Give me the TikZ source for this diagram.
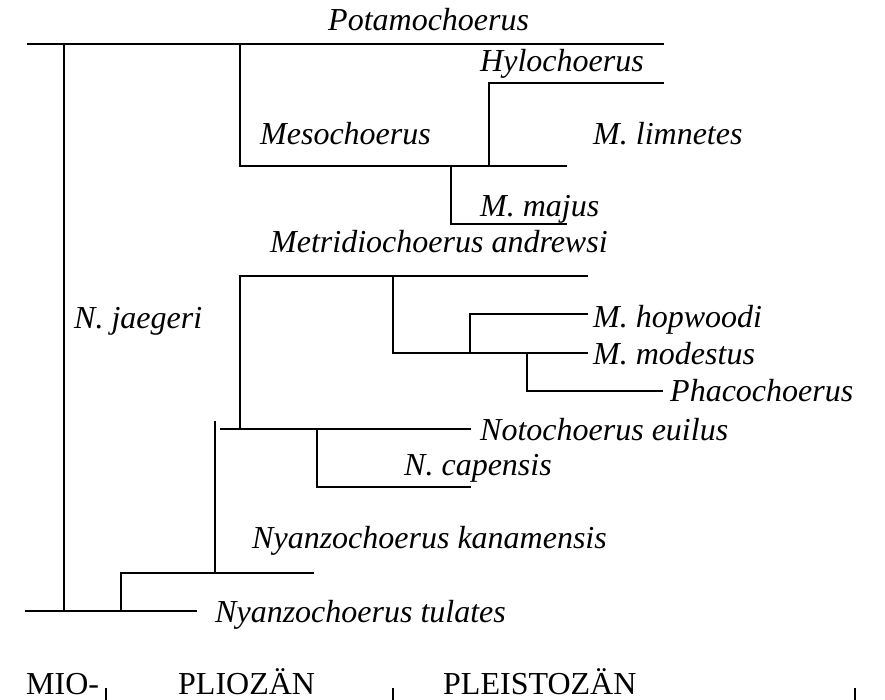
\documentclass[tikz,border=0pt]{standalone}
\usepackage{fontspec}
\setmainfont{Liberation Serif}
\usepackage{tikz}
\usetikzlibrary{positioning}

\begin{document}
\begin{tikzpicture}[
    x=1pt, y=-1pt,
    branch/.style={draw, line width=1.6pt, line cap=rect},
    taxon/.style={
        font=\fontsize{32}{38}\selectfont\itshape,
        inner sep=0pt,
        anchor=base west
    },
    epoch/.style={
        font=\fontsize{32}{38}\selectfont,
        inner sep=0pt,
        anchor=base west
    }
]
\useasboundingbox (0,0) rectangle (885,700);

% branch points
\coordinate (topL) at (28,44);
\coordinate (topR) at (663,44);
\coordinate (root) at (64,44);
\coordinate (botL) at (26,611);
\coordinate (botR) at (196,611);
\coordinate (rootB) at (64,611);
\coordinate (meso) at (240,44);
\coordinate (mesoR) at (566,166);
\coordinate (hylo) at (489,166);
\coordinate (hyloR) at (663,83);
\coordinate (majus) at (451,166);
\coordinate (majusR) at (566,224);
\coordinate (nyan) at (121,611);
\coordinate (kanR) at (313,573);
\coordinate (kan) at (215,573);
\coordinate (kanT) at (215,422);
\coordinate (notoL) at (221,429);
\coordinate (notoR) at (470,429);
\coordinate (noto) at (240,429);
\coordinate (metrR) at (587,276);
\coordinate (metr) at (393,276);
\coordinate (modR) at (587,353);
\coordinate (hop) at (470,353);
\coordinate (hopR) at (587,314);
\coordinate (phaco) at (527,353);
\coordinate (phacoR) at (662,391);
\coordinate (cap) at (317,429);
\coordinate (capR) at (470,487);

% branches
\draw[branch] (topL) -- (topR);
\draw[branch] (root) -- (rootB);
\draw[branch] (botL) -- (botR);
\draw[branch] (meso) |- (mesoR);
\draw[branch] (hylo) |- (hyloR);
\draw[branch] (majus) |- (majusR);
\draw[branch] (nyan) |- (kanR);
\draw[branch] (kan) -- (kanT);
\draw[branch] (notoL) -- (notoR);
\draw[branch] (noto) |- (metrR);
\draw[branch] (metr) |- (modR);
\draw[branch] (hop) |- (hopR);
\draw[branch] (phaco) |- (phacoR);
\draw[branch] (cap) |- (capR);

% taxa
\node[taxon] (potamo) at (328,31) {Potamochoerus};
\node[taxon] (hylochoerus) at (480,72) {Hylochoerus};
\node[taxon] (mesochoerus) at (260,145) {Mesochoerus};
\node[taxon] (limnetes) at (593,145) {M. limnetes};
\node[taxon] (majusL) at (480,217) {M. majus};
\node[taxon] (andrewsi) at (270,253) {Metridiochoerus andrewsi};
\node[taxon] (jaegeri) at (74,328) {N. jaegeri};
\node[taxon] (hopwoodi) at (593,327) {M. hopwoodi};
\node[taxon] (modestus) at (593,364) {M. modestus};
\node[taxon] (phacochoerus) at (670,401) {Phacochoerus};
\node[taxon] (euilus) at (480,440) {Notochoerus euilus};
\node[taxon] (capensis) at (404,475) {N. capensis};
\node[taxon] (kanamensis) at (252,548) {Nyanzochoerus kanamensis};
\node[taxon] (tulates) at (215,622) {Nyanzochoerus tulates};

% epochs
\node[epoch] (mio) at (26,694) {MIO-};
\node[epoch] (plio) at (178,694) {PLIOZÄN};
\node[epoch] (pleisto) at (443,694) {PLEISTOZÄN};
\foreach \x in {106,393,855}
    \draw[line width=1.3pt] (\x,688) -- (\x,700);
\end{tikzpicture}
\end{document}
